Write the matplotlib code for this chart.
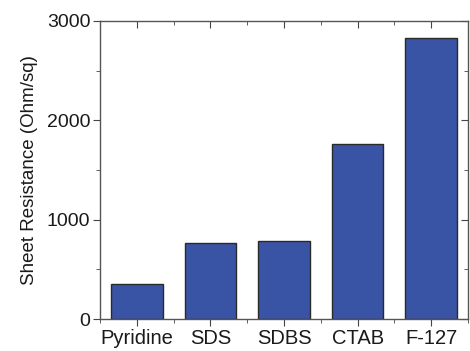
import matplotlib.pyplot as plt
from matplotlib.ticker import MultipleLocator

plt.rcParams['font.family'] = 'Liberation Sans'

surfactants = ['Pyridine', 'SDS', 'SDBS', 'CTAB', 'F-127']
resistance = [350, 765, 785, 1762, 2825]

fig = plt.figure(figsize=(4.7, 3.51), dpi=100)
ax = fig.add_axes([100 / 470, 32 / 351, 368 / 470, 298 / 351])

x = range(len(surfactants))
ax.bar(x, resistance, width=0.7, color='#3953a5', edgecolor='#2a2a2a', linewidth=1.0)

ax.set_xlim(-0.5, 4.5)
ax.set_ylim(0, 3000)
ax.set_xticks(list(x))
ax.set_xticklabels(surfactants, fontsize=14.5)
ax.set_xticks([i + 0.5 for i in range(-1, 5)], minor=True)
ax.yaxis.set_major_locator(MultipleLocator(1000))
ax.yaxis.set_minor_locator(MultipleLocator(500))
ax.set_ylabel('Sheet Resistance (Ohm/sq)', fontsize=13.5, color='#1a1a1a', labelpad=6)

for s in ax.spines.values():
    s.set_color('#555555')
    s.set_linewidth(1.0)

ax.tick_params(axis='both', which='both', direction='out', color='#444444',
               labelcolor='#1a1a1a', pad=2)
ax.tick_params(axis='y', labelsize=14)
ax.tick_params(which='major', length=5)
ax.tick_params(which='minor', length=3)

# mirrored ticks on top and right point into the plot
top = ax.secondary_xaxis('top')
top.set_xticks(list(x))
top.set_xticks([i + 0.5 for i in range(-1, 5)], minor=True)
top.tick_params(which='both', direction='in', labeltop=False, color='#444444')
top.tick_params(which='major', length=5)
top.tick_params(which='minor', length=3)
top.spines['top'].set_visible(False)
right = ax.secondary_yaxis('right')
right.yaxis.set_major_locator(MultipleLocator(1000))
right.yaxis.set_minor_locator(MultipleLocator(500))
right.tick_params(which='both', direction='in', labelright=False, color='#444444')
right.tick_params(which='major', length=5)
right.tick_params(which='minor', length=3)
right.spines['right'].set_visible(False)

fig.savefig('out.png', dpi=100)
